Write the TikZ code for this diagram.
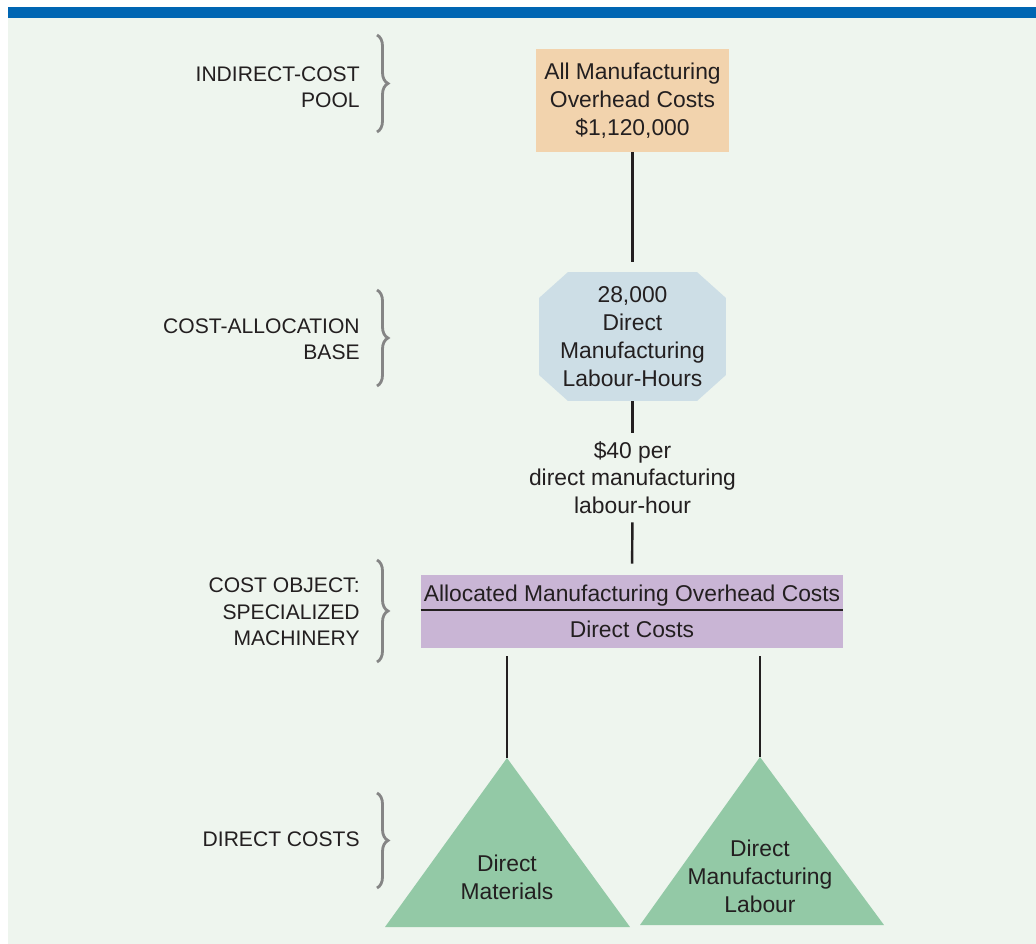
\documentclass[tikz,border=0pt]{standalone}
\usepackage{fontspec}
\setmainfont{Liberation Sans}
\usetikzlibrary{decorations.pathreplacing}
\definecolor{barblue}{HTML}{0066B3}
\definecolor{paper}{HTML}{EEF5EE}
\definecolor{ink}{HTML}{231F20}
\definecolor{bracegray}{HTML}{858585}
\definecolor{poolfill}{HTML}{F2D3AD}
\definecolor{basefill}{HTML}{CDDEE6}
\definecolor{objfill}{HTML}{C9B5D5}
\definecolor{dirfill}{HTML}{93C9A6}

\begin{document}
\begin{tikzpicture}[x=0.02cm, y=-0.02cm,
    box/.style={inner sep=0pt, align=center, text=ink, font=\fontsize{13}{15.8}\selectfont},
    octo/.style={path picture={
        \fill[basefill] ([xshift=0.58cm]path picture bounding box.north west) -- ([xshift=-0.58cm]path picture bounding box.north east)
            -- ([yshift=-0.52cm]path picture bounding box.north east) -- ([yshift=0.52cm]path picture bounding box.south east)
            -- ([xshift=-0.58cm]path picture bounding box.south east) -- ([xshift=0.58cm]path picture bounding box.south west)
            -- ([yshift=0.52cm]path picture bounding box.south west) -- ([yshift=-0.52cm]path picture bounding box.north west) -- cycle;}},
    lbl/.style={anchor=east, align=right, inner sep=0pt, text=ink, font=\fontsize{12}{15}\selectfont},
    link/.style={line width=1.4pt, draw=ink},
    brc/.style={decorate, decoration={brace, amplitude=0.22cm}, draw=bracegray, line width=1.6pt}]
        % frame
        \useasboundingbox (0,0) rectangle (1036,944);
        \fill[paper] (8,18) rectangle (1036,944);
        \fill[barblue] (8,7) rectangle (1036,18);

        % boxes
        \node[box, fill=poolfill, minimum width=3.86cm, minimum height=2.06cm] (pool) at (632.5,100.5) {All Manufacturing\\Overhead Costs\\\$1,120,000};
        \node[box, octo, minimum width=3.74cm, minimum height=2.58cm] (base) at (632.5,336.5) {28,000\\Direct\\Manufacturing\\Labour-Hours};
        \node[box, minimum height=1.78cm] (rate) at (632.5,477.5) {\$40 per\\direct manufacturing\\labour-hour};
        \node[box, fill=objfill, minimum width=8.44cm, minimum height=1.46cm] (machine) at (632,611.5) {Allocated Manufacturing Overhead Costs\\[5pt]Direct Costs};
        \draw[ink, line width=0.8pt] (machine.west |- 0,610) -- (machine.east |- 0,610);

        % direct costs
        \coordinate (dmtop) at (507,758);
        \coordinate (dltop) at (760,757);
        \fill[dirfill] (dmtop) -- (385,927) -- (630,927) -- cycle;
        \fill[dirfill] (dltop) -- (640,925) -- (884,925) -- cycle;
        \node[box] (dm) at (507,877.5) {Direct\\Materials};
        \node[box] (dl) at (760,876.5) {Direct\\Manufacturing\\Labour};

        \draw[link, shorten >=0.2cm] (pool) -- (base);
        \draw[link] (base) -- (rate);
        \draw[link, shorten >=0.22cm] (rate) -- (machine);
        \draw[link, shorten <=0.16cm] (machine.south -| dmtop) -- (dmtop);
        \draw[link, shorten <=0.16cm] (machine.south -| dltop) -- (dltop);

        % labels
        \node[lbl] (poollbl) at (360,87.5) {INDIRECT-COST\\POOL};
        \node[lbl] (baselbl) at (360,339) {COST-ALLOCATION\\BASE};
        \node[lbl] (objlbl) at (360,612) {COST OBJECT:\\SPECIALIZED\\MACHINERY};
        \node[lbl] (dirlbl) at (360,839) {DIRECT COSTS};
        \draw[brc] (377,35) -- (377,132);
        \draw[brc] (377,290) -- (377,386);
        \draw[brc] (377,560) -- (377,662);
        \draw[brc] (377,793) -- (377,888);
    \end{tikzpicture}
\end{document}
